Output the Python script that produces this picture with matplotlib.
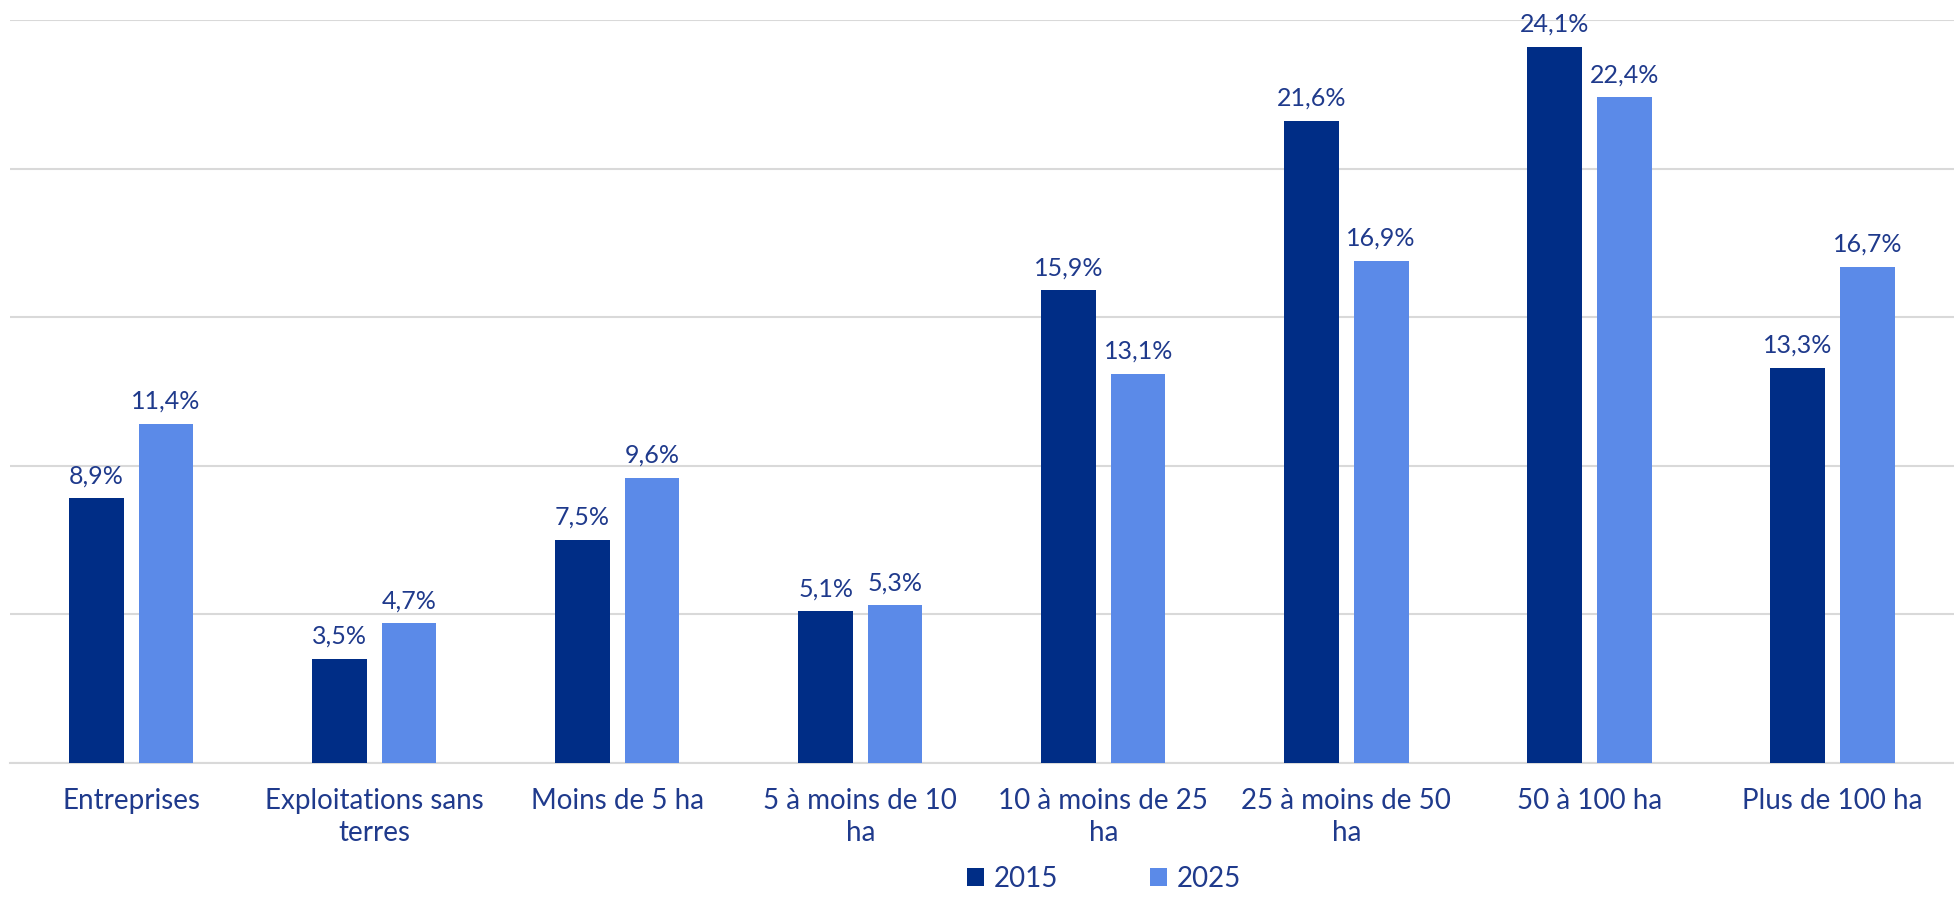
import numpy as np
import matplotlib.pyplot as plt

# Données
categories = ["Entreprises", "Exploitations sans\nterres", "Moins de 5 ha",
              "5 à moins de 10\nha", "10 à moins de 25\nha", "25 à moins de 50\nha",
              "50 à 100 ha", "Plus de 100 ha"]
v2015 = [8.9, 3.5, 7.5, 5.1, 15.9, 21.6, 24.1, 13.3]
v2025 = [11.4, 4.7, 9.6, 5.3, 13.1, 16.9, 22.4, 16.7]
series = ["2015", "2025"]

dark = "#002D86"
light = "#5B8AE8"
txt = "#1F3A8C"

plt.rcParams['font.family'] = ['Lato', 'DejaVu Sans']

fig = plt.figure(figsize=(19.54, 8.97), dpi=100)
ax = fig.add_axes([0.005, 0.1494, 0.995, 0.8283])

x = np.arange(len(categories))
w = 0.225
off = 0.143
b1 = ax.bar(x - off, v2015, w, color=dark, label=series[0], zorder=3)
b2 = ax.bar(x + off, v2025, w, color=light, label=series[1], zorder=3)

for bars, vals in ((b1, v2015), (b2, v2025)):
    for r, v in zip(bars, vals):
        ax.annotate(f"{v:.1f}%".replace(".", ","),
                    (r.get_x() + r.get_width() / 2, v),
                    xytext=(0, 8), textcoords="offset points",
                    ha="center", va="bottom", fontsize=18, color=txt)

ax.set_xlim(-0.5, 7.5)
ax.set_ylim(0, 25)
ax.set_yticks(np.arange(0, 26, 5))
ax.yaxis.grid(True, color="#D9D9D9", linewidth=1.5, zorder=0)
ax.set_yticklabels([])
ax.tick_params(axis="y", length=0)
ax.tick_params(axis="x", length=0, pad=18, labelsize=20, labelcolor=txt)
ax.set_xticks(x)
ax.set_xticklabels(categories, linespacing=1.3)
for s in ["top", "right", "left"]:
    ax.spines[s].set_visible(False)
ax.spines["bottom"].set_color("#D9D9D9")
ax.spines["bottom"].set_linewidth(1.5)

leg = fig.legend(loc="center", bbox_to_anchor=(0.565, 0.020), ncol=2, frameon=False,
                 fontsize=20, handlelength=0.6, handleheight=0.6,
                 columnspacing=3.3, handletextpad=0.35, borderpad=0.1)
for t in leg.get_texts():
    t.set_color(txt)

fig.savefig("out.png", dpi=100)
